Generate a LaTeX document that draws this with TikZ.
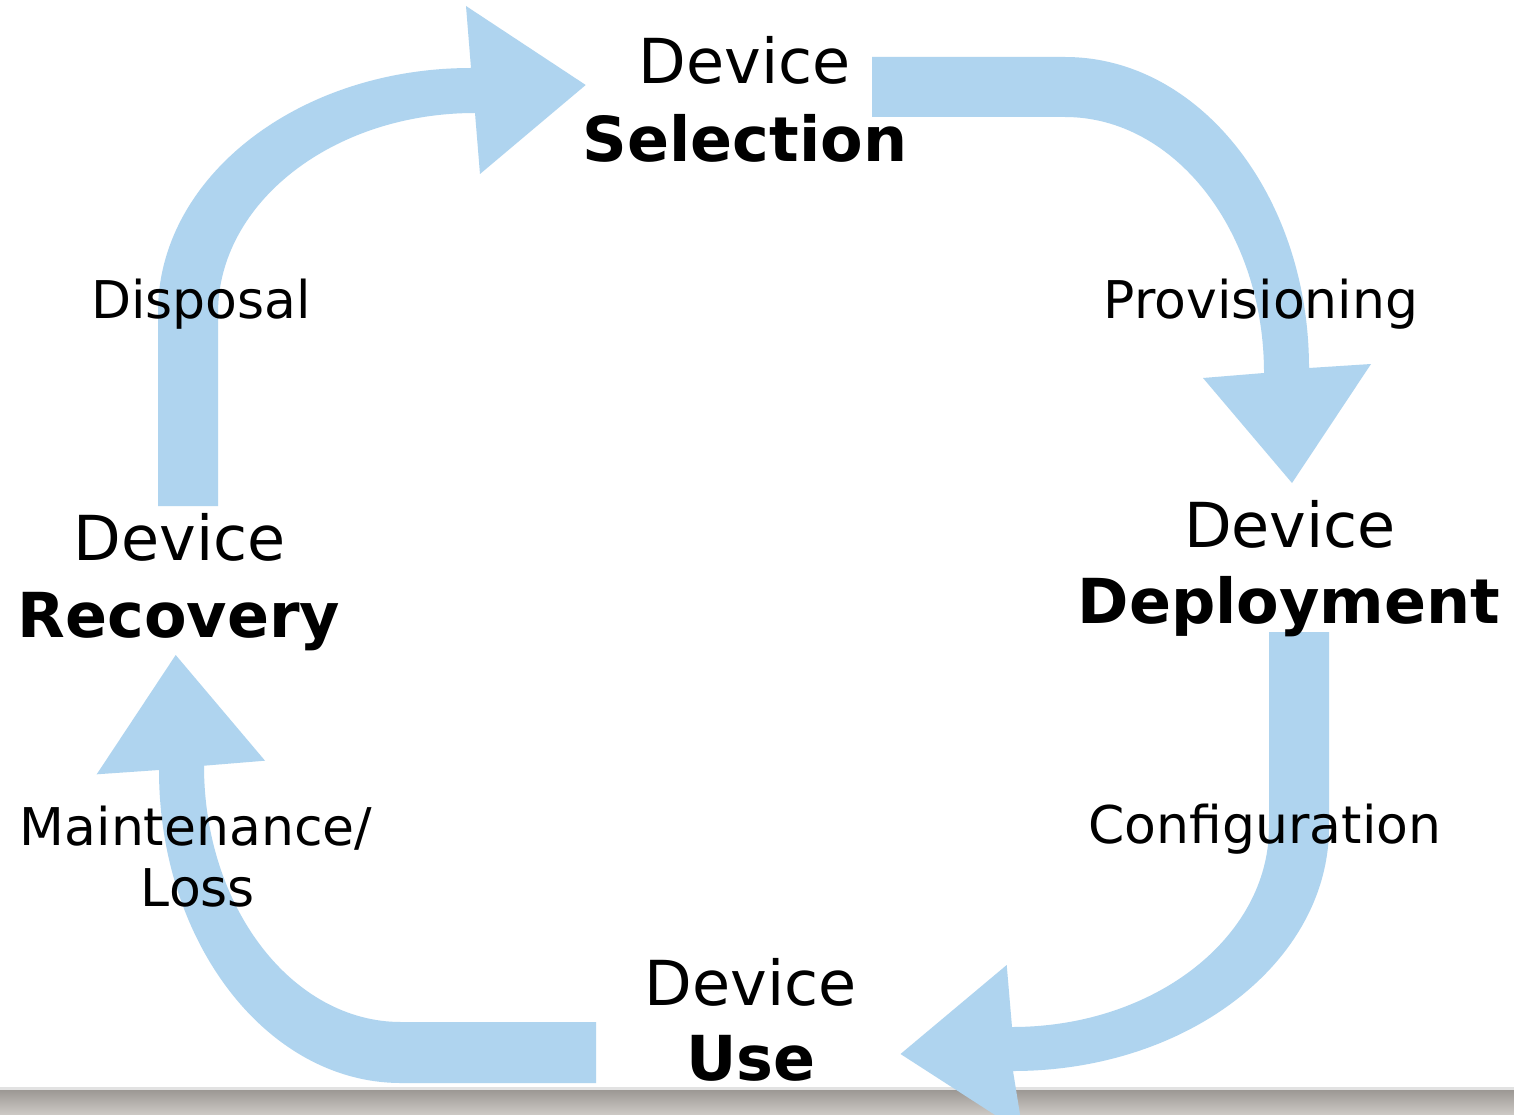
\documentclass[tikz,border=0pt]{standalone}
\usepackage{fontspec}
\setmainfont{DejaVu Sans}
\definecolor{arrowblue}{HTML}{AFD4EF}
\definecolor{bartop}{HTML}{9C9894}
\definecolor{barbottom}{HTML}{CECAC6}
\definecolor{barline}{HTML}{E2E2E2}
\tikzset{
  stagetext/.style={anchor=base, inner sep=0pt, font=\fontsize{62}{74}\selectfont},
  stagebold/.style={anchor=base, inner sep=0pt, font=\fontsize{62}{74}\selectfont\bfseries},
  steplabel/.style={anchor=base, inner sep=0pt, font=\fontsize{52}{62}\selectfont},
  blockarrow/.style={fill=arrowblue, draw=none}
}
\begin{document}
\begin{tikzpicture}[x=1pt, y=-1pt]
  \useasboundingbox (0,0) rectangle (1514,1115);
  \fill[white] (0,0) rectangle (1514,1115);

  % footer bar
  \fill[barline] (0,1087) rectangle (1514,1090);
  \shade[top color=bartop, bottom color=barbottom] (0,1090) rectangle (1514,1115);

  % Selection -> Deployment
  \fill[blockarrow] (872,57) -- (1065,57)
    .. controls (1199.8,57) and (1309,196.2) .. (1309,368)
    -- (1371,364) -- (1292,483) -- (1203,378) -- (1264,373)
    .. controls (1264,231.6) and (1174.9,117) .. (1065,117)
    -- (872,117) -- cycle;

  % Deployment -> Use
  \fill[blockarrow] (1329,632) -- (1329,827)
    .. controls (1329,961.8) and (1187.5,1071) .. (1013,1071)
    -- (1023,1133) -- (900.5,1054) -- (1006.7,965) -- (1012,1027)
    .. controls (1153.9,1027) and (1269,937.5) .. (1269,827)
    -- (1269,632) -- cycle;

  % Use -> Recovery
  \fill[blockarrow] (596,1083) -- (401,1083)
    .. controls (267.3,1083) and (159,942.9) .. (159,770)
    -- (96.7,774.3) -- (175.7,655) -- (265,760.7) -- (204,765.7)
    .. controls (204,907.4) and (292.2,1022) .. (401,1022)
    -- (596,1022) -- cycle;

  % Recovery -> Selection
  \fill[blockarrow] (158,506) -- (158,312)
    .. controls (158,177.2) and (298.1,68) .. (471,68)
    -- (466,6) -- (585.7,85) -- (480,174) -- (475,113)
    .. controls (333.1,113) and (218,202.5) .. (218,313)
    -- (218,506) -- cycle;

  % stages
  \node[stagetext] (sel-a) at (745,84) {Device};
  \node[stagebold] (sel)   at (745,162) {Selection};
  \node[stagetext] (dep-a) at (1290,547) {Device};
  \node[stagebold] (dep)   at (1289,623) {Deployment};
  \node[stagetext] (use-a) at (751,1005) {Device};
  \node[stagebold] (use)   at (751,1080) {Use};
  \node[stagetext] (rec-a) at (180,560) {Device};
  \node[stagebold] (rec)   at (179,637) {Recovery};

  % transitions
  \node[steplabel] (prov) at (1261,318) {Provisioning};
  \node[steplabel] (conf) at (1265,843) {Configuration};
  \node[steplabel] (maint) at (196,845) {Maintenance/};
  \node[steplabel] (loss) at (198,906) {Loss};
  \node[steplabel] (disp) at (201,318) {Disposal};
\end{tikzpicture}
\end{document}
